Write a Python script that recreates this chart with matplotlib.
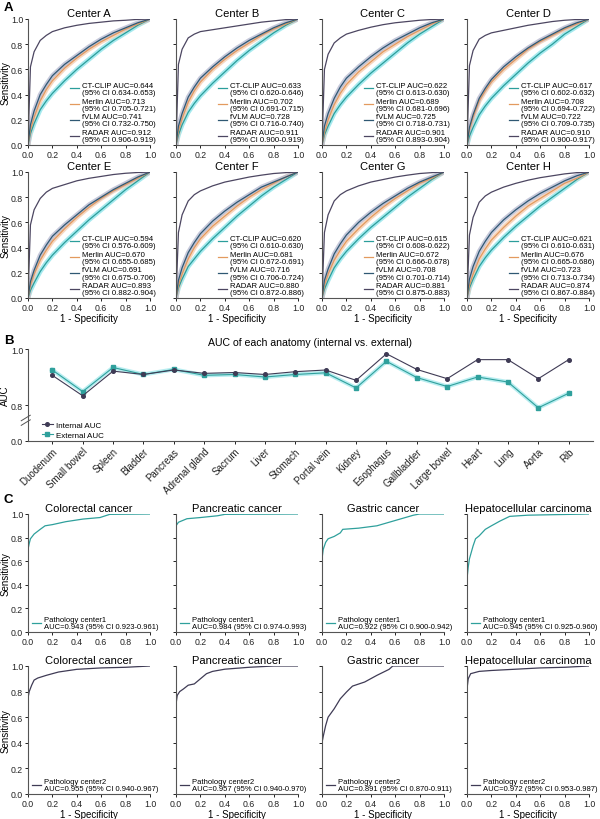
import numpy as np
import matplotlib
matplotlib.use('Agg')
import matplotlib.pyplot as plt

plt.rcParams['font.family'] = ['Liberation Sans', 'DejaVu Sans']

# ---------------- data ----------------
centers = ['Center A', 'Center B', 'Center C', 'Center D',
           'Center E', 'Center F', 'Center G', 'Center H']
models = ['CT-CLIP', 'Merlin', 'fVLM', 'RADAR']

# AUC and 95% CI per center, per model
auc = {
    'CT-CLIP': [0.644, 0.633, 0.622, 0.617, 0.594, 0.620, 0.615, 0.621],
    'Merlin':  [0.713, 0.702, 0.689, 0.708, 0.670, 0.681, 0.672, 0.676],
    'fVLM':    [0.741, 0.728, 0.725, 0.722, 0.691, 0.716, 0.708, 0.723],
    'RADAR':   [0.912, 0.911, 0.901, 0.910, 0.893, 0.880, 0.881, 0.874],
}
ci = {
    'CT-CLIP': ['0.634-0.653', '0.620-0.646', '0.613-0.630', '0.602-0.632',
                '0.576-0.609', '0.610-0.630', '0.608-0.622', '0.610-0.631'],
    'Merlin':  ['0.705-0.721', '0.691-0.715', '0.681-0.696', '0.694-0.722',
                '0.655-0.685', '0.672-0.691', '0.666-0.678', '0.665-0.686'],
    'fVLM':    ['0.732-0.750', '0.716-0.740', '0.718-0.731', '0.709-0.735',
                '0.675-0.706', '0.706-0.724', '0.701-0.714', '0.713-0.734'],
    'RADAR':   ['0.906-0.919', '0.900-0.919', '0.893-0.904', '0.900-0.917',
                '0.882-0.904', '0.872-0.886', '0.875-0.883', '0.867-0.884'],
}

# ROC points (shared FPR grid)
roc_fpr = [0, 0.02, 0.05, 0.1, 0.15, 0.2, 0.3, 0.4, 0.5, 0.6, 0.7, 0.8, 0.9, 1.0]
ctclip_tpr = [
    [0, 0.09, 0.17, 0.28, 0.35, 0.41, 0.51, 0.60, 0.68, 0.76, 0.83, 0.89, 0.95, 1.0],
    [0, 0.08, 0.16, 0.26, 0.33, 0.39, 0.49, 0.58, 0.67, 0.75, 0.82, 0.89, 0.95, 1.0],
    [0, 0.08, 0.15, 0.25, 0.32, 0.38, 0.48, 0.57, 0.65, 0.73, 0.81, 0.88, 0.94, 1.0],
    [0, 0.07, 0.14, 0.24, 0.31, 0.37, 0.47, 0.56, 0.65, 0.73, 0.80, 0.88, 0.94, 1.0],
    [0, 0.06, 0.12, 0.21, 0.28, 0.34, 0.44, 0.53, 0.62, 0.70, 0.78, 0.86, 0.93, 1.0],
    [0, 0.08, 0.15, 0.25, 0.31, 0.37, 0.47, 0.56, 0.65, 0.73, 0.81, 0.88, 0.94, 1.0],
    [0, 0.07, 0.14, 0.24, 0.31, 0.37, 0.47, 0.56, 0.64, 0.72, 0.80, 0.87, 0.94, 1.0],
    [0, 0.08, 0.15, 0.25, 0.32, 0.38, 0.48, 0.57, 0.65, 0.73, 0.80, 0.87, 0.94, 1.0],
]
merlin_tpr = [
    [0, 0.12, 0.22, 0.35, 0.44, 0.51, 0.61, 0.69, 0.76, 0.82, 0.87, 0.92, 0.96, 1.0],
    [0, 0.11, 0.21, 0.34, 0.43, 0.50, 0.60, 0.68, 0.75, 0.81, 0.87, 0.92, 0.96, 1.0],
    [0, 0.10, 0.20, 0.32, 0.41, 0.48, 0.58, 0.66, 0.74, 0.80, 0.86, 0.91, 0.96, 1.0],
    [0, 0.12, 0.22, 0.35, 0.43, 0.50, 0.60, 0.68, 0.76, 0.82, 0.87, 0.92, 0.96, 1.0],
    [0, 0.10, 0.19, 0.30, 0.38, 0.45, 0.55, 0.64, 0.72, 0.79, 0.85, 0.90, 0.95, 1.0],
    [0, 0.10, 0.19, 0.31, 0.40, 0.47, 0.57, 0.65, 0.73, 0.80, 0.86, 0.91, 0.96, 1.0],
    [0, 0.10, 0.19, 0.30, 0.38, 0.45, 0.55, 0.64, 0.72, 0.79, 0.85, 0.91, 0.95, 1.0],
    [0, 0.10, 0.19, 0.31, 0.39, 0.46, 0.56, 0.65, 0.73, 0.79, 0.85, 0.91, 0.95, 1.0],
]
fvlm_tpr = [
    [0, 0.16, 0.27, 0.40, 0.48, 0.55, 0.64, 0.71, 0.78, 0.84, 0.89, 0.93, 0.97, 1.0],
    [0, 0.15, 0.25, 0.38, 0.46, 0.53, 0.62, 0.70, 0.77, 0.83, 0.88, 0.93, 0.97, 1.0],
    [0, 0.15, 0.25, 0.37, 0.46, 0.53, 0.62, 0.70, 0.77, 0.83, 0.88, 0.93, 0.97, 1.0],
    [0, 0.14, 0.24, 0.37, 0.45, 0.52, 0.62, 0.70, 0.77, 0.83, 0.88, 0.93, 0.97, 1.0],
    [0, 0.13, 0.22, 0.34, 0.42, 0.49, 0.58, 0.66, 0.74, 0.80, 0.86, 0.91, 0.96, 1.0],
    [0, 0.14, 0.24, 0.36, 0.44, 0.51, 0.61, 0.69, 0.76, 0.82, 0.88, 0.92, 0.96, 1.0],
    [0, 0.14, 0.23, 0.35, 0.43, 0.50, 0.60, 0.68, 0.75, 0.81, 0.87, 0.92, 0.96, 1.0],
    [0, 0.15, 0.25, 0.37, 0.45, 0.52, 0.62, 0.70, 0.77, 0.83, 0.88, 0.93, 0.97, 1.0],
]
radar_tpr = [
    [0, 0.62, 0.74, 0.83, 0.87, 0.90, 0.93, 0.95, 0.965, 0.975, 0.985, 0.99, 0.997, 1.0],
    [0, 0.64, 0.76, 0.85, 0.88, 0.90, 0.915, 0.93, 0.945, 0.96, 0.975, 0.985, 0.995, 1.0],
    [0, 0.60, 0.72, 0.81, 0.85, 0.88, 0.91, 0.935, 0.955, 0.97, 0.98, 0.99, 0.996, 1.0],
    [0, 0.63, 0.75, 0.84, 0.87, 0.89, 0.91, 0.93, 0.95, 0.965, 0.98, 0.99, 0.996, 1.0],
    [0, 0.58, 0.70, 0.79, 0.84, 0.87, 0.90, 0.93, 0.95, 0.965, 0.98, 0.99, 0.996, 1.0],
    [0, 0.52, 0.66, 0.77, 0.82, 0.85, 0.89, 0.92, 0.94, 0.96, 0.975, 0.988, 0.995, 1.0],
    [0, 0.52, 0.66, 0.77, 0.82, 0.85, 0.89, 0.92, 0.94, 0.96, 0.975, 0.988, 0.995, 1.0],
    [0, 0.50, 0.64, 0.76, 0.81, 0.84, 0.88, 0.91, 0.935, 0.955, 0.97, 0.985, 0.995, 1.0],
]
tpr_by_model = {'CT-CLIP': ctclip_tpr, 'Merlin': merlin_tpr,
                'fVLM': fvlm_tpr, 'RADAR': radar_tpr}

# panel B
anatomy = ['Duodenum', 'Small bowel', 'Spleen', 'Bladder', 'Pancreas',
           'Adrenal gland', 'Sacrum', 'Liver', 'Stomach', 'Portal vein',
           'Kidney', 'Esophagus', 'Gallbladder', 'Large bowel', 'Heart',
           'Lung', 'Aorta', 'Rib']
internal_auc = [0.906, 0.833, 0.921, 0.909, 0.925, 0.913, 0.916, 0.909, 0.919,
                0.925, 0.888, 0.983, 0.927, 0.894, 0.962, 0.962, 0.894, 0.962]
external_auc = [0.925, 0.848, 0.934, 0.909, 0.927, 0.906, 0.909, 0.900, 0.909,
                0.915, 0.861, 0.956, 0.898, 0.866, 0.900, 0.882, 0.790, 0.842]

# panel C
cancers = ['Colorectal cancer', 'Pancreatic cancer', 'Gastric cancer',
           'Hepatocellular carcinoma']
c1_auc = ['0.943 (95% CI 0.923-0.961)', '0.984 (95% CI 0.974-0.993)',
          '0.922 (95% CI 0.900-0.942)', '0.945 (95% CI 0.925-0.960)']
c2_auc = ['0.955 (95% CI 0.940-0.967)', '0.957 (95% CI 0.940-0.970)',
          '0.891 (95% CI 0.870-0.911)', '0.972 (95% CI 0.953-0.987)']
c1_fpr = [
    [0, 0, 0.01, 0.02, 0.05, 0.1, 0.14, 0.2, 0.31, 0.45, 0.59, 0.67, 1.0],
    [0, 0, 0.02, 0.05, 0.09, 0.2, 0.34, 0.4, 1.0],
    [0, 0, 0.01, 0.03, 0.05, 0.1, 0.15, 0.17, 0.3, 0.45, 0.55, 0.65, 0.75, 0.8, 1.0],
    [0, 0, 0.01, 0.02, 0.05, 0.07, 0.1, 0.15, 0.2, 0.27, 0.35, 0.5, 1.0],
]
c1_tpr = [
    [0, 0.70, 0.75, 0.79, 0.83, 0.87, 0.90, 0.91, 0.935, 0.957, 0.97, 0.997, 1.0],
    [0, 0.90, 0.93, 0.943, 0.96, 0.97, 0.985, 0.997, 1.0],
    [0, 0.62, 0.70, 0.76, 0.79, 0.81, 0.84, 0.87, 0.88, 0.90, 0.93, 0.96, 0.99, 1.0, 1.0],
    [0, 0.45, 0.55, 0.62, 0.73, 0.79, 0.815, 0.87, 0.90, 0.94, 0.98, 0.99, 1.0],
]
c2_fpr = [
    [0, 0, 0.01, 0.03, 0.05, 0.08, 0.15, 0.25, 0.4, 0.6, 0.8, 1.0],
    [0, 0, 0.01, 0.03, 0.06, 0.1, 0.15, 0.2, 0.25, 0.3, 0.4, 0.6, 0.8, 1.0],
    [0, 0, 0.01, 0.03, 0.05, 0.1, 0.15, 0.2, 0.25, 0.35, 0.45, 0.55, 0.58, 1.0],
    [0, 0, 0.01, 0.03, 0.1, 0.2, 0.4, 0.6, 0.8, 1.0],
]
c2_tpr = [
    [0, 0.75, 0.80, 0.85, 0.89, 0.906, 0.927, 0.953, 0.974, 0.985, 0.99, 1.0],
    [0, 0.70, 0.77, 0.80, 0.82, 0.85, 0.86, 0.90, 0.94, 0.958, 0.975, 0.99, 1.0, 1.0],
    [0, 0.40, 0.45, 0.535, 0.60, 0.666, 0.744, 0.796, 0.843, 0.875, 0.927, 0.974, 1.0, 1.0],
    [0, 0.82, 0.90, 0.94, 0.958, 0.965, 0.975, 0.985, 0.99, 1.0],
]

# ---------------- style ----------------
line_col = {'CT-CLIP': '#2b9e9b', 'Merlin': '#e39a5e',
            'fVLM': '#2f5873', 'RADAR': '#4c4661'}
halo_col = {'CT-CLIP': '#8fe4ea', 'Merlin': '#f6cdb0',
            'fVLM': '#b9bcd2', 'RADAR': '#d0cedb'}
TEAL = '#2fa09c'
DARK = '#3f3b55'
SPINE = '#555555'

W, H = 600, 820
fig = plt.figure(figsize=(W / 100, H / 100), dpi=100)


def px_axes(x0, y0, x1, y1):
    return fig.add_axes([x0 / W, 1 - y1 / H, (x1 - x0) / W, (y1 - y0) / H])


def style(ax):
    ax.spines[['top', 'right']].set_visible(False)
    for s in ['left', 'bottom']:
        ax.spines[s].set_linewidth(0.8)
        ax.spines[s].set_color(SPINE)
    ax.tick_params(length=2.3, width=0.7, labelsize=6.3, pad=1.2,
                   colors='#222222')


def roc_frame(ax, col, bottom_row):
    ax.set_xlim(0, 1.0)
    ax.set_ylim(0, 1.0)
    ax.set_xticks(np.arange(0, 1.01, 0.2))
    ax.set_yticks(np.arange(0, 1.01, 0.2))
    ax.xaxis.set_major_formatter('{x:.1f}')
    ax.yaxis.set_major_formatter('{x:.1f}')
    if col != 0:
        ax.set_yticklabels([])
    else:
        ax.set_ylabel('Sensitivity', fontsize=7, labelpad=0.5)
    if bottom_row:
        ax.set_xlabel('1 - Specificity', fontsize=7, labelpad=0.5)


col_x = [(28, 150), (176, 298), (322, 444), (467, 589)]

# ---------------- panel A ----------------
rowsA = [(20, 146), (173, 299)]
for i, center in enumerate(centers):
    r, c = divmod(i, 4)
    ax = px_axes(col_x[c][0], rowsA[r][0], col_x[c][1], rowsA[r][1])
    style(ax)
    for m in models:
        tpr = tpr_by_model[m][i]
        if m != 'RADAR':
            ax.plot(roc_fpr, tpr, color=halo_col[m], lw=3.4, alpha=0.8,
                    solid_capstyle='round', zorder=1)
        ax.plot(roc_fpr, tpr, color=line_col[m], lw=0.9, zorder=2,
                label=f'{m} AUC={auc[m][i]:.3f}\n(95% CI {ci[m][i]})')
    roc_frame(ax, c, r == 1)
    ax.set_title(center, fontsize=8, pad=2)
    leg = ax.legend(loc='lower right', bbox_to_anchor=(1.06, 0.0),
                    frameon=False, fontsize=5.6, handlelength=1.1,
                    handletextpad=0.4, labelspacing=0.25, borderpad=0,
                    borderaxespad=0.2)
    for t in leg.get_texts():
        t.set_linespacing(1.0)

# ---------------- panel B ----------------
BOT = 0.8 - 36 / 280.0


def fwd(v):
    v = np.asarray(v, dtype=float)
    return np.where(v >= 0.7, v, BOT + v * (0.7 - BOT) / 0.7)


def inv(u):
    u = np.asarray(u, dtype=float)
    return np.where(u >= 0.7, u, (u - BOT) * 0.7 / (0.7 - BOT))


axB = px_axes(28, 350, 593, 442)
style(axB)
axB.set_yscale('function', functions=(fwd, inv))
xpos = np.arange(len(anatomy))
axB.plot(xpos, external_auc, color='#9be6ea', lw=3, alpha=0.7, zorder=1)
axB.plot(xpos, internal_auc, color=DARK, lw=0.8, marker='o', ms=2.6,
         zorder=3, label='Internal AUC')
axB.plot(xpos, external_auc, color=TEAL, lw=0.8, marker='s', ms=2.6,
         zorder=2, label='External AUC')
axB.set_xlim(-0.8, len(anatomy) - 0.2)
axB.set_ylim(0, 1.0)
axB.set_yticks([0, 0.8, 1.0])
axB.yaxis.set_major_formatter('{x:.1f}')
axB.set_xticks(xpos)
axB.set_xticklabels(anatomy, rotation=45, ha='right', rotation_mode='anchor',
                    fontsize=7)
axB.set_ylabel('AUC', fontsize=7, labelpad=0.5)
axB.set_title('AUC of each anatomy (internal vs. external)', fontsize=7.6,
              pad=3)
axB.legend(loc='lower left', bbox_to_anchor=(0.02, 0.0), frameon=False,
           fontsize=5.8, handlelength=1.4, handletextpad=0.4,
           labelspacing=0.3, borderpad=0, borderaxespad=0.3)
# axis break marks
for dy in (0.0, 0.05):
    axB.plot([-0.012, 0.004], [0.17 + dy, 0.23 + dy], transform=axB.transAxes,
             color=SPINE, lw=0.7, clip_on=False)

# ---------------- panel C ----------------
rowsC = [(515, 633), (667, 795)]
for r, (fprs, tprs, aucs, col, name) in enumerate([
        (c1_fpr, c1_tpr, c1_auc, TEAL, 'Pathology center1'),
        (c2_fpr, c2_tpr, c2_auc, DARK, 'Pathology center2')]):
    for c, cancer in enumerate(cancers):
        ax = px_axes(col_x[c][0], rowsC[r][0], col_x[c][1], rowsC[r][1])
        style(ax)
        ax.plot(fprs[c], tprs[c], color=col, lw=0.9,
                label=f'{name}\nAUC={aucs[c]}')
        roc_frame(ax, c, r == 1)
        ax.set_title(cancer, fontsize=8, pad=2)
        leg = ax.legend(loc='lower left', bbox_to_anchor=(0.02, 0.0),
                        frameon=False, fontsize=5.5, handlelength=1.2,
                        handletextpad=0.4, borderpad=0, borderaxespad=0.2)
        for t in leg.get_texts():
            t.set_linespacing(1.0)

# panel letters
for letter, y in (('A', 8), ('B', 341), ('C', 500)):
    fig.text(4 / W, 1 - y / H, letter, fontsize=9.5, fontweight='bold',
             va='center', ha='left')

fig.savefig('out.png', dpi=100)
